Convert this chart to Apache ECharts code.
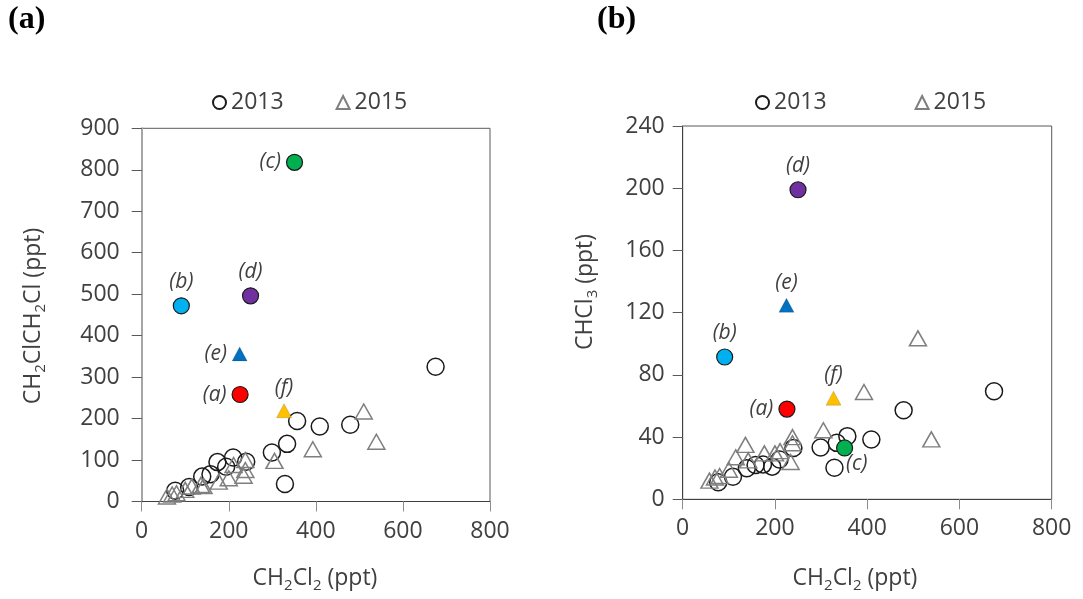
<!DOCTYPE html>
<html><head><meta charset="utf-8">
<script src="https://cdn.jsdelivr.net/npm/echarts@6/dist/echarts.min.js"></script>
<style>html,body{margin:0;padding:0;background:#fff}#c{width:1083px;height:599px}</style>
</head><body><div id="c"></div>
<script>
// ---- data ----
const ch2cl2_2013 = [77, 109, 139, 158, 174, 194, 210, 240, 299, 334, 357, 409, 479, 329, 675];
const edc_2013    = [26, 35, 60, 66, 95, 84, 106, 96, 118, 139, 194, 181, 185, 42, 325];
const chcl3_2013  = [11, 14.5, 20, 22, 22.3, 21, 25.6, 33, 33.3, 36.3, 40.6, 38.5, 57.3, 20.3, 69.5];

const ch2cl2_2015 = [58, 70, 80, 100, 115, 136, 142, 177, 200, 211, 234, 238, 238, 305, 393, 510, 539];
const edc_2015    = [12, 17, 20, 28, 36, 40, 37, 48, 56, 88, 62, 76, 100, 98, 126, 217, 144];
const chcl3_2015  = [12, 14, 15, 19, 27, 35, 25, 29.5, 29.5, 31, 24, 36, 40, 44.4, 69, 103.5, 38.5];

const siteNames   = ['(a)', '(b)', '(c)', '(d)', '(e)', '(f)'];
const site_ch2cl2 = [226, 91, 351, 250, 225, 327];
const site_edc    = [258, 472, 818, 496, 356, 219];
const site_chcl3  = [58, 91.5, 33, 199, 124.7, 65];

const xTicks = [0, 200, 400, 600, 800];
const yTicksA = [0, 100, 200, 300, 400, 500, 600, 700, 800, 900];
const yTicksB = [0, 40, 80, 120, 160, 200, 240];

// ---- styles ----
const siteColors  = ['#FF0000', '#00B0F0', '#00B050', '#7030A0', '#0070C0', '#FFC000'];
const siteSymbols = ['circle', 'circle', 'circle', 'circle', 'triangle', 'triangle'];
const labelPosA = ['left', 'top', 'left', 'top', 'left', 'top'];
const labelPosB = ['left', 'top', [10, 14], 'top', 'top', 'top'];

const FONT = 'Open Sans';
const TXT = '#404040';

const chart = echarts.init(document.getElementById('c'), null, {renderer: 'canvas'});

function pairs(xs, ys) { return xs.map((x, i) => [x, ys[i]]); }

function valAxis(gi, min, max, interval, opts) {
  return Object.assign({
    gridIndex: gi, type: 'value', min: min, max: max, interval: interval,
    splitLine: {show: false},
    axisLine: {show: true, lineStyle: {color: '#404040', width: 1}},
    axisTick: {show: true, length: 10, lineStyle: {color: '#595959', width: 1}},
    axisLabel: {show: true, fontSize: 23, fontFamily: FONT, color: TXT, margin: 18}
  }, opts || {});
}
function tickAxis(gi, min, max, interval, color) {
  return {
    gridIndex: gi, type: 'value', min: min, max: max, interval: interval,
    splitLine: {show: false}, axisLine: {show: false},
    axisTick: {show: true, inside: true, length: 9, lineStyle: {color: color, width: 1}},
    axisLabel: {show: false}
  };
}

const circleStyle = {color: 'rgba(0,0,0,0)', borderColor: '#1a1a1a', borderWidth: 1.5, opacity: 1};
const triStyle = {color: 'rgba(0,0,0,0)', borderColor: '#7f7f7f', borderWidth: 1.5, opacity: 1};

function siteSeries(xi, yi, ys, positions) {
  return {
    type: 'scatter', xAxisIndex: xi, yAxisIndex: yi, z: 5,
    data: siteNames.map((n, i) => ({
      name: n, value: [site_ch2cl2[i], ys[i]],
      symbol: siteSymbols[i],
      symbolSize: siteSymbols[i] === 'circle' ? 16 : [15, 14],
      itemStyle: siteSymbols[i] === 'circle'
        ? {color: siteColors[i], borderColor: '#1a1a1a', borderWidth: 1.2, opacity: 1}
        : {color: siteColors[i], borderColor: 'rgba(0,0,0,0.3)', borderWidth: 0.5, opacity: 1},
      label: {show: true, position: positions[i], distance: 5, formatter: '{b}',
        fontFamily: FONT, fontStyle: 'italic', fontSize: 21, color: TXT}
    }))
  };
}

function richName(parts) {
  return parts.map(p => p[1] ? '{s|' + p[0] + '}' : '{n|' + p[0] + '}').join('');
}
const rich = {
  n: {fontSize: 23, fontFamily: FONT, color: TXT, lineHeight: 30},
  s: {fontSize: 15, fontFamily: FONT, color: TXT, lineHeight: 12, verticalAlign: 'bottom'}
};
function nameText(x, y, parts, rot) {
  return {
    type: 'text', x: x, y: y, rotation: rot || 0,
    style: {text: richName(parts), rich: rich, align: 'center', verticalAlign: 'middle', fill: TXT}
  };
}

const option = {
  backgroundColor: '#ffffff',
  animation: false,
  grid: [
    {left: 141.7, top: 128.3, width: 348.3, height: 373.2, show: true, borderColor: '#595959', borderWidth: 1, backgroundColor: 'transparent'},
    {left: 682.7, top: 126, width: 369, height: 373.3, show: true, borderColor: '#595959', borderWidth: 1, backgroundColor: 'transparent'}
  ],
  legend: [
    {data: ['2013', '2015'], left: 207, top: 86, itemWidth: 13, itemHeight: 13, itemGap: 52,
     textStyle: {fontSize: 23, fontFamily: FONT, color: TXT}},
    {data: ['2013', '2015'], left: 750, top: 86, itemWidth: 13, itemHeight: 13, itemGap: 88,
     textStyle: {fontSize: 23, fontFamily: FONT, color: TXT}}
  ],
  xAxis: [
    valAxis(0, 0, 800, 200, {axisTick: {show: true, length: 10, lineStyle: {color: '#8c8c8c'}}}),
    valAxis(1, 0, 800, 200, {axisTick: {show: true, length: 10, lineStyle: {color: '#8c8c8c'}}}),
    tickAxis(0, 0, 800, 200, '#8c8c8c'),
    tickAxis(1, 0, 800, 200, '#8c8c8c')
  ],
  yAxis: [
    valAxis(0, 0, 900, 100, {axisLine: {show: true, lineStyle: {color: '#a6a6a6', width: 2}},
      axisLabel: {show: true, fontSize: 23, fontFamily: FONT, color: TXT, margin: 22}}),
    valAxis(1, 0, 240, 40, {axisLabel: {show: true, fontSize: 23, fontFamily: FONT, color: TXT, margin: 18}}),
    tickAxis(0, 0, 900, 100, '#595959'),
    tickAxis(1, 0, 240, 40, '#595959')
  ],
  series: [
    {name: '2013', type: 'scatter', xAxisIndex: 0, yAxisIndex: 0, symbol: 'circle', symbolSize: 17,
     itemStyle: circleStyle, data: pairs(ch2cl2_2013, edc_2013)},
    {name: '2015', type: 'scatter', xAxisIndex: 0, yAxisIndex: 0, symbol: 'triangle', symbolSize: [17, 15],
     itemStyle: triStyle, data: pairs(ch2cl2_2015, edc_2015)},
    {name: '2013', type: 'scatter', xAxisIndex: 1, yAxisIndex: 1, symbol: 'circle', symbolSize: 17,
     itemStyle: circleStyle, data: pairs(ch2cl2_2013, chcl3_2013)},
    {name: '2015', type: 'scatter', xAxisIndex: 1, yAxisIndex: 1, symbol: 'triangle', symbolSize: [17, 15],
     itemStyle: triStyle, data: pairs(ch2cl2_2015, chcl3_2015)},
    siteSeries(0, 0, site_edc, labelPosA),
    siteSeries(1, 1, site_chcl3, labelPosB)
  ],
  graphic: [
    {type: 'text', x: 8, y: 4, style: {text: '(a)', font: 'bold 32px "Liberation Serif"', fill: '#000'}},
    {type: 'text', x: 597, y: 4, style: {text: '(b)', font: 'bold 32px "Liberation Serif"', fill: '#000'}},
    nameText(315, 578, [['CH', 0], ['2', 1], ['Cl', 0], ['2', 1], [' (ppt)', 0]]),
    nameText(855, 578, [['CH', 0], ['2', 1], ['Cl', 0], ['2', 1], [' (ppt)', 0]]),
    nameText(33, 316, [['CH', 0], ['2', 1], ['ClCH', 0], ['2', 1], ['Cl (ppt)', 0]], Math.PI / 2),
    nameText(585, 292, [['CHCl', 0], ['3', 1], [' (ppt)', 0]], Math.PI / 2)
  ]
};
chart.setOption(option);
</script>
</body></html>
